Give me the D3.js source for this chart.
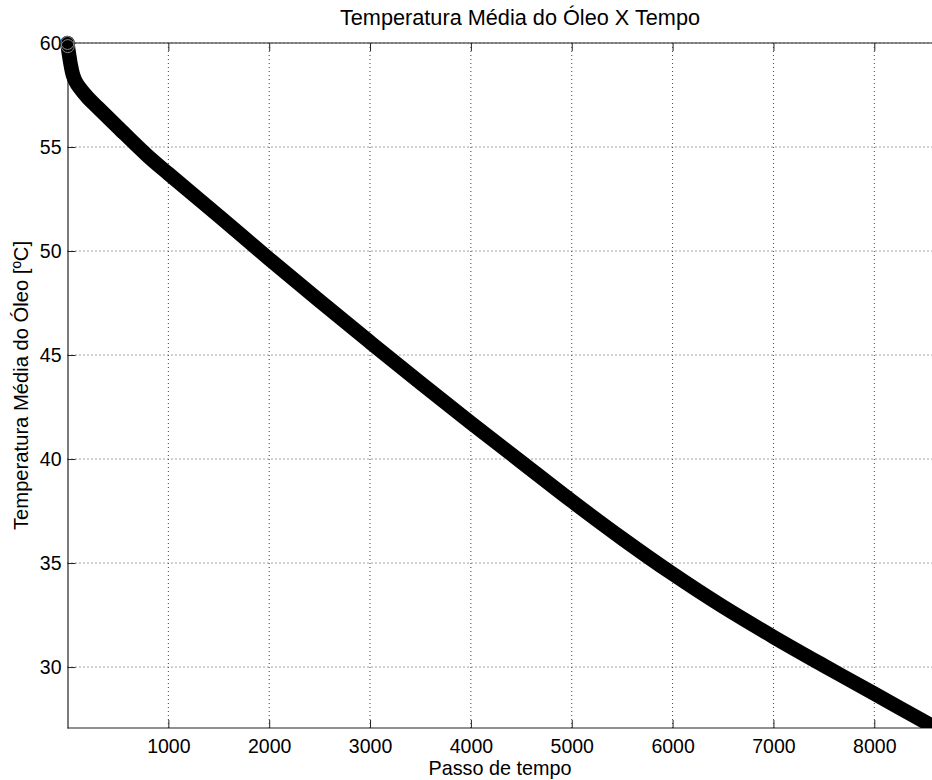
<!DOCTYPE html>
<html>
<head>
<meta charset="utf-8">
<script src="https://cdn.jsdelivr.net/npm/d3@7"></script>
<style>
  html, body { margin: 0; padding: 0; background: #fff; }
  svg { display: block; font-family: "Liberation Sans", Arial, sans-serif; }
</style>
</head>
<body>
<svg id="chart" width="932" height="780"></svg>
<script>
// ---- data ----
const steps = [0, 3, 20, 33, 55, 80, 115, 200, 300, 500, 800, 1000, 1500, 2000, 2500, 3000, 3500, 4000, 4500, 5000, 5500, 6000, 6500, 7000, 7500, 8000, 8580];
const temps = [60.0, 59.85, 59.3, 58.92, 58.45, 58.15, 57.88, 57.38, 56.9, 55.95, 54.55, 53.72, 51.68, 49.62, 47.6, 45.62, 43.66, 41.74, 39.86, 37.98, 36.18, 34.48, 32.9, 31.45, 30.07, 28.72, 27.15];
const xTicks = [1000, 2000, 3000, 4000, 5000, 6000, 7000, 8000];
const yTicks = [30, 35, 40, 45, 50, 55, 60];
const titleText = "Temperatura Média do Óleo X Tempo";
const xLabelText = "Passo de tempo";
const yLabelText = "Temperatura Média do Óleo [ºC]";

const data = steps.map((s, i) => ({ x: s, y: temps[i] }));

const svg = d3.select("#chart");
const L = 67.5, R = 934.8, T = 43, B = 728;
const x = d3.scaleLinear().domain([0, 8600]).range([L, R]);
const y = d3.scaleLinear().domain([27.07, 60]).range([B, T]);

// grid
const grid = svg.append("g");
grid.selectAll(".gx").data(xTicks).join("line")
  .attr("x1", d => x(d)).attr("x2", d => x(d)).attr("y1", T).attr("y2", B)
  .attr("stroke", "#444").attr("stroke-width", 1).attr("stroke-dasharray", "1,3");
grid.selectAll(".gy").data(yTicks).join("line")
  .attr("y1", d => y(d)).attr("y2", d => y(d)).attr("x1", L).attr("x2", 932)
  .attr("stroke", "#444").attr("stroke-width", 1).attr("stroke-dasharray", "1,3");

// axes (MATLAB style: inward ticks)
const gx = svg.append("g").attr("transform", `translate(0,${B})`)
  .call(d3.axisBottom(x).tickValues(xTicks).tickFormat(d3.format("d")).tickSizeInner(-8).tickSizeOuter(0).tickPadding(11));
const gxt = svg.append("g").attr("transform", `translate(0,${T})`)
  .call(d3.axisTop(x).tickValues(xTicks).tickSizeInner(-8).tickSizeOuter(0).tickFormat(""));
const gy = svg.append("g").attr("transform", `translate(${L},0)`)
  .call(d3.axisLeft(y).tickValues(yTicks).tickSizeInner(-8).tickSizeOuter(0).tickPadding(6));
[gx, gxt, gy].forEach(g => {
  g.select(".domain").attr("stroke", "#222").attr("stroke-width", 1.2);
  g.selectAll(".tick line").attr("stroke", "#222");
  g.selectAll(".tick text").attr("fill", "#000").attr("font-size", 19.5)
    .attr("font-family", "'Liberation Sans', Arial, sans-serif");
});
gx.select(".domain").attr("d", `M${L},0H932`);
gxt.select(".domain").attr("d", `M${L},0H932`);

// clip so the band stops at the bottom axis
svg.append("clipPath").attr("id", "clip").append("rect")
  .attr("x", 40).attr("y", 20).attr("width", 900).attr("height", B - 20);

const line = d3.line().x(d => x(d.x)).y(d => y(d.y)).curve(d3.curveCatmullRom.alpha(0.5));
const plot = svg.append("g").attr("clip-path", "url(#clip)");
plot.append("path").datum(data)
  .attr("d", line)
  .attr("fill", "none").attr("stroke", "#000").attr("stroke-width", 14.5)
  .attr("stroke-linecap", "round").attr("stroke-linejoin", "round");
plot.selectAll("circle").data(data.filter(d => d.y >= 59.8)).join("circle")
  .attr("cx", d => x(d.x)).attr("cy", d => y(d.y)).attr("r", 6.5)
  .attr("fill", "none").attr("stroke", "#888").attr("stroke-width", 1);

// texts
svg.append("text").attr("x", 520).attr("y", 25).attr("text-anchor", "middle")
  .attr("font-size", 21.7).text(titleText);
svg.append("text").attr("x", 500).attr("y", 775).attr("text-anchor", "middle")
  .attr("font-size", 19.8).text(xLabelText);
svg.append("text").attr("transform", `translate(27.5,${(T + B) / 2}) rotate(-90)`)
  .attr("text-anchor", "middle").attr("font-size", 20.2).text(yLabelText);
</script>
</body>
</html>
